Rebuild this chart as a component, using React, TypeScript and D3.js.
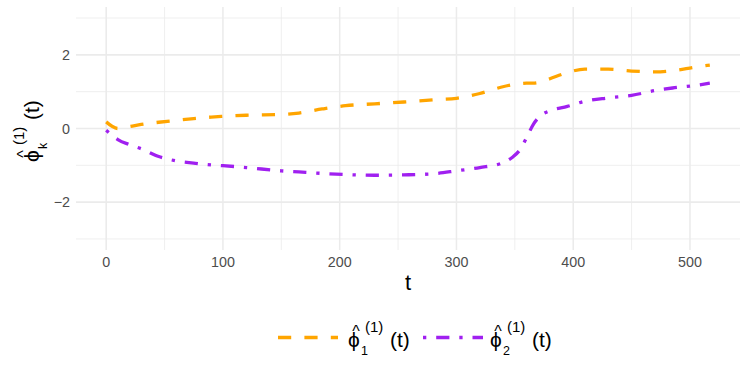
import React from 'react';
import * as d3 from 'd3';

// sampled time points and the two estimated eigenfunctions
const tVals = [0, 5, 10, 20, 30, 45, 60, 75, 90, 100, 120, 150, 165, 185, 205, 230, 255, 280, 300, 320, 338, 348, 355, 360, 366, 372, 380, 395, 410, 430, 450, 470, 485, 505, 517];
const phi1 = [0.18, 0.06, 0.0, 0.05, 0.11, 0.17, 0.22, 0.27, 0.31, 0.33, 0.36, 0.38, 0.42, 0.53, 0.62, 0.67, 0.72, 0.78, 0.82, 0.95, 1.12, 1.19, 1.22, 1.23, 1.23, 1.26, 1.35, 1.52, 1.61, 1.61, 1.56, 1.54, 1.57, 1.67, 1.72];
const phi2 = [-0.05, -0.18, -0.3, -0.44, -0.55, -0.76, -0.88, -0.94, -0.99, -1.01, -1.06, -1.15, -1.18, -1.22, -1.25, -1.27, -1.26, -1.23, -1.15, -1.06, -0.95, -0.78, -0.55, -0.25, 0.12, 0.35, 0.48, 0.6, 0.74, 0.83, 0.9, 1.03, 1.1, 1.17, 1.23];

const xMajor = [0, 100, 200, 300, 400, 500];
const xMinor = [50, 150, 250, 350, 450];
const yMajor = [-2, 0, 2];
const yMinor = [-3, -1, 1, 3];

const W = 747;
const H = 374;
const panel = { left: 76, right: 740, top: 7, bottom: 250 };
const font = '"Liberation Sans", Arial, Helvetica, sans-serif';
const lwd = 3.3;

const series = [
  { key: '1', values: phi1, color: '#FFA500', dash: `${4 * lwd},${4 * lwd}` },
  { key: '2', values: phi2, color: '#A020F0', dash: `${lwd},${3 * lwd},${4 * lwd},${3 * lwd}` },
];

// phi-hat with a subscript and (1) superscript, followed by (t)
const PhiLabel = ({ x, y, sub }: { x: number; y: number; sub: string }) => (
  <text fontFamily={font} fill="#000">
    <tspan x={x} y={y} fontSize={21}>{'\u03D5'}</tspan>
    <tspan x={x + 8} y={y - 10} fontSize={16} textAnchor="middle">^</tspan>
    <tspan x={x + 13} y={y + 8} fontSize={12.5}>{sub}</tspan>
    <tspan x={x + 17} y={y - 15} fontSize={15}>(1)</tspan>
    <tspan x={x + 42} y={y} fontSize={21}>(t)</tspan>
  </text>
);

export default function App() {
  const x = d3.scaleLinear().domain([-25.85, 542.85]).range([panel.left, panel.right]);
  const y = d3.scaleLinear().domain([-3.3, 3.3]).range([panel.bottom, panel.top]);

  const line = d3
    .line<number>()
    .x((_, i) => x(tVals[i]))
    .y((d) => y(d))
    .curve(d3.curveMonotoneX);

  const legendItems = [
    { s: series[0], keyX: 278, labelX: 348 },
    { s: series[1], keyX: 423, labelX: 490 },
  ];

  return (
    <div style={{ position: 'fixed', left: 0, top: 0 }}>
      <svg width={W} height={H} style={{ display: 'block', background: '#fff' }}>
        {/* grid */}
        {yMinor.map((v) => (
          <line key={'ym' + v} x1={panel.left} x2={panel.right} y1={y(v)} y2={y(v)} stroke="#ebebeb" strokeWidth={0.8} />
        ))}
        {xMinor.map((v) => (
          <line key={'xm' + v} x1={x(v)} x2={x(v)} y1={panel.top} y2={panel.bottom} stroke="#ebebeb" strokeWidth={0.8} />
        ))}
        {yMajor.map((v) => (
          <line key={'yM' + v} x1={panel.left} x2={panel.right} y1={y(v)} y2={y(v)} stroke="#ebebeb" strokeWidth={1.55} />
        ))}
        {xMajor.map((v) => (
          <line key={'xM' + v} x1={x(v)} x2={x(v)} y1={panel.top} y2={panel.bottom} stroke="#ebebeb" strokeWidth={1.55} />
        ))}

        {/* lines */}
        {series.map((s) => (
          <path
            key={s.key}
            d={line(s.values) || ''}
            fill="none"
            stroke={s.color}
            strokeWidth={lwd}
            strokeDasharray={s.dash}
            strokeLinecap="butt"
          />
        ))}

        {/* tick labels */}
        {xMajor.map((v) => (
          <text key={'xt' + v} x={x(v)} y={267} fontSize={14.3} fill="#4d4d4d" fontFamily={font} textAnchor="middle">
            {v}
          </text>
        ))}
        {yMajor.map((v) => (
          <text key={'yt' + v} x={70} y={y(v)} dy="0.36em" fontSize={14.3} fill="#4d4d4d" fontFamily={font} textAnchor="end">
            {v < 0 ? '\u2212' + Math.abs(v) : v}
          </text>
        ))}

        {/* axis titles */}
        <text x={(panel.left + panel.right) / 2} y={290} fontSize={22} fontFamily={font} textAnchor="middle">
          t
        </text>
        <g transform="translate(38.5,0) rotate(-90)">
          <PhiLabel x={-162} y={0} sub="k" />
        </g>

        {/* legend */}
        {legendItems.map(({ s, keyX, labelX }) => (
          <g key={'lg' + s.key}>
            <line
              x1={keyX}
              x2={keyX + 60}
              y1={337.5}
              y2={337.5}
              stroke={s.color}
              strokeWidth={lwd}
              strokeDasharray={s.dash}
            />
            <PhiLabel x={labelX} y={347} sub={s.key} />
          </g>
        ))}
      </svg>
    </div>
  );
}
